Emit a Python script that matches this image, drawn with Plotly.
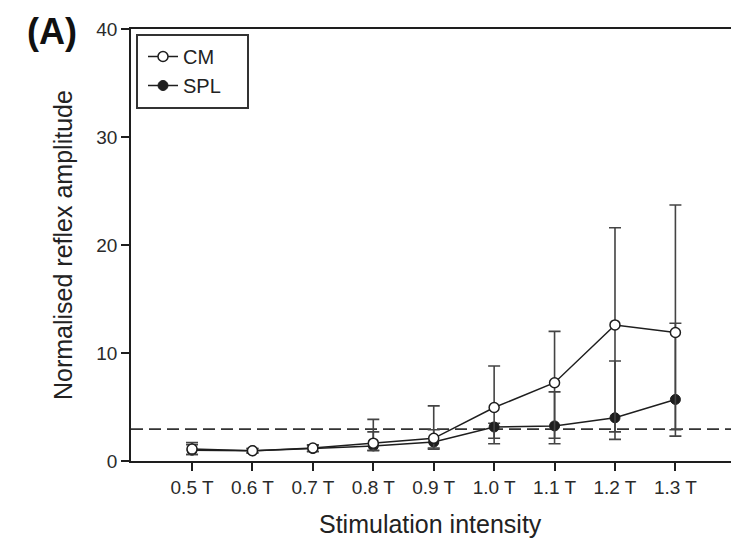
import plotly.graph_objects as go

categories = ["0.5 T", "0.6 T", "0.7 T", "0.8 T", "0.9 T", "1.0 T", "1.1 T", "1.2 T", "1.3 T"]

cm_mean = [1.1, 0.95, 1.2, 1.65, 2.1, 4.95, 7.25, 12.6, 11.9]
cm_upper = [1.7, 1.15, 1.5, 3.85, 5.1, 8.8, 12.0, 21.6, 23.7]
cm_lower = [0.6, 0.75, 0.9, 1.0, 1.2, 2.1, 2.1, 2.7, 2.9]

spl_mean = [1.0, 0.95, 1.15, 1.4, 1.75, 3.15, 3.25, 4.0, 5.7]
spl_upper = [1.5, 1.15, 1.45, 2.7, 2.9, 3.5, 6.4, 9.26, 12.75]
spl_lower = [0.6, 0.75, 0.85, 0.95, 1.1, 1.6, 1.6, 2.0, 2.3]

threshold = 2.95

FONT = "Liberation Sans, Arial, sans-serif"
INK = "#1e1e1e"

def err(mean, up, lo):
    return dict(
        type="data",
        array=[u - m for u, m in zip(up, mean)],
        arrayminus=[m - l for m, l in zip(mean, lo)],
        symmetric=False,
        color="#444444",
        thickness=1.6,
        width=6,
    )

fig = go.Figure()
fig.add_trace(go.Scatter(
    x=categories, y=spl_mean, name="SPL", mode="lines+markers",
    line=dict(color=INK, width=1.5),
    marker=dict(symbol="circle", size=10, color=INK, line=dict(color=INK, width=1)),
    error_y=err(spl_mean, spl_upper, spl_lower),
))
fig.add_trace(go.Scatter(
    x=categories, y=cm_mean, name="CM", mode="lines+markers",
    line=dict(color=INK, width=1.5),
    marker=dict(symbol="circle", size=10, color="white", line=dict(color=INK, width=1.5)),
    error_y=err(cm_mean, cm_upper, cm_lower),
))

fig.add_shape(type="line", xref="paper", yref="y", x0=0, x1=1, y0=threshold, y1=threshold,
              line=dict(color="#333333", width=1.6, dash="12px,6px"), layer="below")

# legend frame
fig.add_shape(type="rect", xref="paper", yref="paper",
              x0=(137 - 131) / 600, x1=(248 - 131) / 600,
              y0=(461 - 108) / 432, y1=(461 - 35) / 432,
              line=dict(color="#333333", width=2), fillcolor="white", layer="below")

fig.update_layout(
    width=731, height=544,
    margin=dict(l=131, r=0, t=29, b=83),
    paper_bgcolor="white", plot_bgcolor="white",
    font=dict(family=FONT, color="#222222"),
    showlegend=True,
    legend=dict(
        x=(143 - 131) / 600, y=(461 - 37) / 432, xanchor="left", yanchor="top",
        traceorder="reversed",
        borderwidth=0, bgcolor="rgba(0,0,0,0)",
        font=dict(size=20, family=FONT, color="#222222"),
        tracegroupgap=0, itemwidth=30,
    ),
    xaxis=dict(
        type="category", categoryorder="array", categoryarray=categories,
        range=[-1.01, 8.92],
        showline=True, linecolor=INK, linewidth=1.6, mirror=True,
        ticks="outside", ticklen=8, tickwidth=1.5, tickcolor=INK,
        tickfont=dict(size=19, family=FONT, color="#2a2a2a"),
        showgrid=False, zeroline=False,
    ),
    yaxis=dict(
        range=[0, 40], tickvals=[0, 10, 20, 30, 40],
        showline=True, linecolor=INK, linewidth=1.6,
        ticks="outside", ticklen=8, tickwidth=1.5, tickcolor=INK,
        tickfont=dict(size=19, family=FONT, color="#2a2a2a"),
        showgrid=False, zeroline=False,
    ),
    annotations=[
        dict(text="Stimulation intensity", xref="paper", yref="paper",
             x=(430 - 131) / 600, y=(461 - 524) / 432, xanchor="center", yanchor="middle",
             showarrow=False, font=dict(size=25, family=FONT, color="#222222")),
        dict(text="Normalised reflex amplitude", xref="paper", yref="paper",
             x=(63 - 131) / 600, y=0.5, xanchor="center", yanchor="middle", textangle=-90,
             showarrow=False, font=dict(size=25, family=FONT, color="#222222")),
        dict(text="<b>(A)</b>", xref="paper", yref="paper",
             x=(52 - 131) / 600, y=(461 - 31) / 432, xanchor="center", yanchor="middle",
             showarrow=False, font=dict(size=36, family=FONT, color="#111111")),
    ],
)

fig.write_html("out.html")
